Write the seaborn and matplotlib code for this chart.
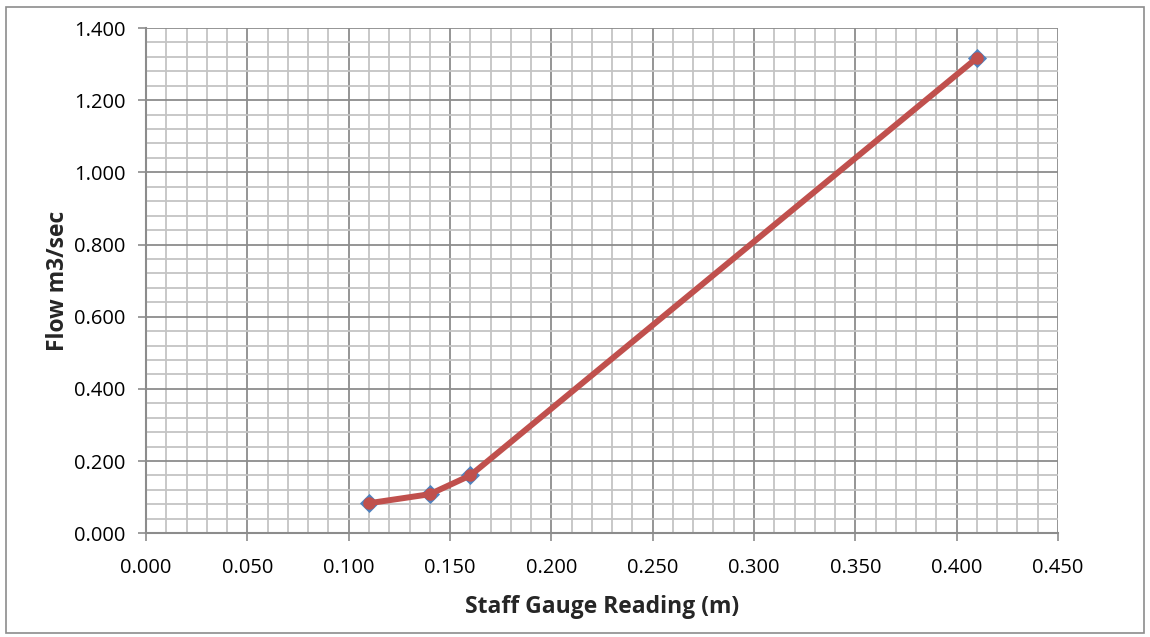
import matplotlib
matplotlib.use("Agg")
import matplotlib.pyplot as plt
from matplotlib.ticker import MultipleLocator, FormatStrFormatter
from matplotlib.patches import Rectangle
import seaborn as sns
import pandas as pd

# Staff gauge readings (m) and measured flow (m3/sec)
gauge_m = [0.11, 0.14, 0.16, 0.41]
flow_m3s = [0.083, 0.108, 0.160, 1.317]

x_label = "Staff Gauge Reading (m)"
y_label = "Flow m3/sec"

sns.set_theme(style="white")
plt.rcParams["font.family"] = ["Open Sans", "DejaVu Sans"]

df = pd.DataFrame({"gauge": gauge_m, "flow": flow_m3s})

fig = plt.figure(figsize=(11.5, 6.37), dpi=100)
ax = fig.add_axes([0.127, 0.163, 0.793, 0.793])

# Observations as blue diamonds, rating curve in red on top
sns.scatterplot(data=df, x="gauge", y="flow", ax=ax, marker="D", s=95,
                color="#4F81BD", edgecolor="#4F81BD", linewidth=0, zorder=3)
sns.lineplot(data=df, x="gauge", y="flow", ax=ax, color="#C0504D",
             linewidth=4.3, marker="o", markersize=9, markeredgewidth=0,
             sort=False, zorder=4)

ax.set_xlim(0, 0.45)
ax.set_ylim(0, 1.4)
ax.xaxis.set_major_locator(MultipleLocator(0.05))
ax.xaxis.set_minor_locator(MultipleLocator(0.01))
ax.yaxis.set_major_locator(MultipleLocator(0.2))
ax.yaxis.set_minor_locator(MultipleLocator(0.04))
ax.xaxis.set_major_formatter(FormatStrFormatter("%.3f"))
ax.yaxis.set_major_formatter(FormatStrFormatter("%.3f"))

ax.grid(which="minor", color="#C4C4C4", linewidth=1.3, zorder=0)
ax.grid(which="major", color="#8C8C8C", linewidth=1.3, zorder=1)
ax.set_axisbelow(True)

for side in ("top", "right"):
    ax.spines[side].set_visible(False)
for side in ("left", "bottom"):
    ax.spines[side].set_color("#8C8C8C")
    ax.spines[side].set_linewidth(1.5)

ax.tick_params(axis="both", which="major", direction="out", length=6,
               width=1.2, color="#8C8C8C", labelsize=14.5, labelcolor="black",
               bottom=True, left=True)
ax.tick_params(axis="x", which="major", pad=12)
ax.tick_params(axis="y", which="major", pad=9)
ax.tick_params(axis="both", which="minor", length=0)

ax.set_xlabel(x_label, fontsize=16.5, fontweight="bold", labelpad=12)
ax.set_ylabel(y_label, fontsize=16.5, fontweight="bold", labelpad=3)

# chart area border
fig.patches.append(Rectangle((0.005, 0.006), 0.99, 0.983, transform=fig.transFigure,
                             fill=False, edgecolor="#8C8C8C", linewidth=1.2))

fig.savefig("out.png", dpi=100, facecolor="white")
